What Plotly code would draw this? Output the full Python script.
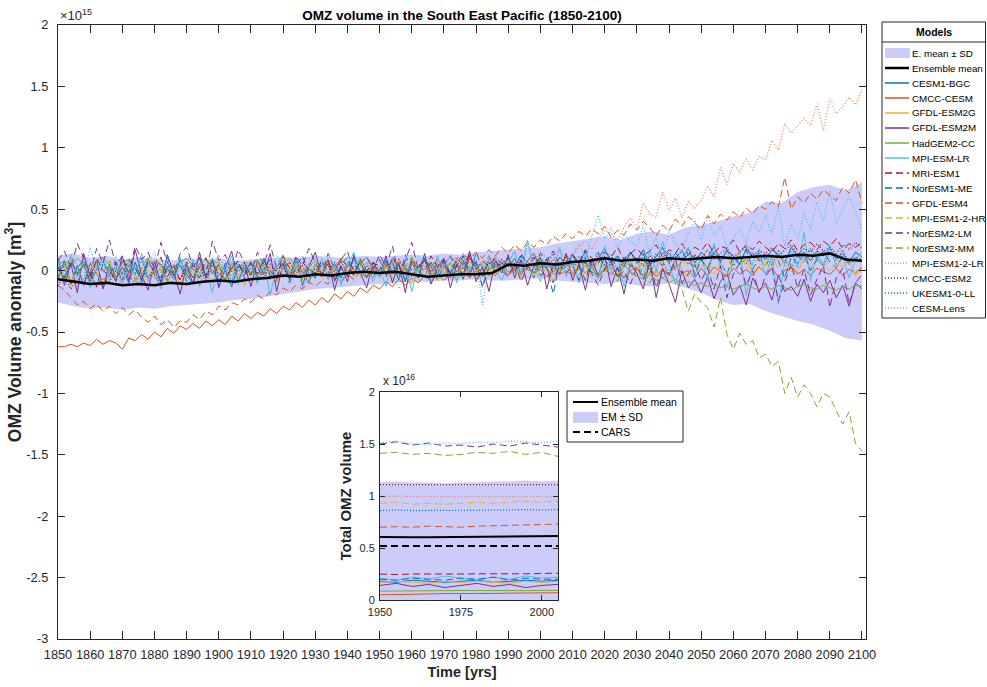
import plotly.graph_objects as go

# ---------------- DATA (units: 1e13 m^3 for anomalies, 1e16 m^3 for inset) ----------------
years = list(range(1850, 2101, 2))
years5 = list(range(1850, 2101, 5))
lens_years = list(range(1920, 2101, 2))
inset_years = list(range(1950, 2006, 5))
main_xticks = list(range(1850, 2101, 10))
main_yticks = [-3, -2.5, -2, -1.5, -1, -0.5, 0, 0.5, 1, 1.5, 2]
main_yticktext = ["-3", "-2.5", "-2", "-1.5", "-1", "-0.5", "0", "0.5", "1", "1.5", "2"]
inset_xticks = [1950, 1975, 2000]
inset_yticks = [0, 0.5, 1, 1.5, 2]
inset_yticktext = ["0", "0.5", "1", "1.5", "2"]

model_names = ["CESM1-BGC", "CMCC-CESM", "GFDL-ESM2G", "GFDL-ESM2M", "HadGEM2-CC",
               "MPI-ESM-LR", "MRI-ESM1", "NorESM1-ME", "GFDL-ESM4", "MPI-ESM1-2-HR",
               "NorESM2-LM", "NorESM2-MM", "MPI-ESM1-2-LR", "CMCC-ESM2", "UKESM1-0-LL",
               "CESM-Lens"]

cesm1_bgc = [-5, 8, -10, 4, -12, 6, -2, -14, 5, -6,
             3, -10, 7, -8, 10, -4, -12, 2, -7, 9,
             -3, -11, 6, -5, 8, -9, 0, -13, 4, -2,
             7, -6, 10, -4, -9, 3, -7, 8, -2, -10,
             5, -3, 9, -8, 2, -5, 11, -1, -6, 4,
             -4, 8, -2, 6, -9, 10, 0, -5, 7, -3,
             9, -2, 5, -7, 12, 1, -4, 8, -1, 6,
             3, 10, -3, 8, 14, 2, 9, -2, 11, 4,
             13, 5, 16, 2, 10, 18, 6, 12, 3, 15,
             8, 17, 4, 12, 19, 7, 14, 9, 18, 6,
             15, 10, 20, 8, 16, 12, 5, 18, 11, 14,
             9, 17, 13, 6, 19, 11, 15, 8, 16, 12,
             18, 10, 14, 7, 15, 11]
cmcc_cesm = [-62, -62, -60, -62, -59, -61, -56, -60, -57, -59,
             -64, -55, -57, -52, -56, -50, -54, -47, -51, -45,
             -48, -43, -47, -41, -45, -40, -44, -37, -41, -35,
             -39, -34, -37, -31, -35, -29, -32, -26, -30, -24,
             -28, -22, -26, -19, -23, -17, -21, -14, -18, -12,
             -15, -9, -13, -7, -12, -6, -10, -4, -9, -3,
             -8, -2, -7, -1, -6, 0, -5, 1, -4, 2,
             -4, 2, -3, 3, -2, 1, -5, 2, -3, 0,
             -4, 3, -2, 4, -5, 1, -3, 2, -6, 0,
             3, -4, 2, -5, 1, -3, 4, -2, 0, -6,
             2, -4, 3, -1, -5, 2, -3, 1, -4, 3,
             -2, 2, -5, 0, 3, -3, 1, -4, 2, -1,
             -3, 2, -4, 1, -2, 3]
gfdl_esm2g = [-8, 2, -12, -3, 5, -9, -1, -14, 0, -6,
              -10, 3, -5, -13, 1, -7, 4, -9, -2, -11,
              0, -6, 6, -4, -10, 2, -8, 5, -3, -12,
              -1, 7, -5, 3, -8, 0, 8, -4, 2, -7,
              4, -3, 9, -2, -6, 5, -1, 7, -5, 1,
              -6, 3, -9, 6, -2, -11, 2, -4, 5, -8,
              1, -5, 6, -3, 3, -7, 0, 8, -2, 4,
              -3, 5, -6, 2, 7, -4, 3, -8, 1, 6,
              -2, 4, -7, 3, 9, -1, 5, -5, 2, 8,
              0, 6, -4, 10, 3, -2, 7, 1, -5, 4,
              8, 2, -3, 6, 11, 0, 5, 9, -2, 4,
              7, 3, 12, 5, -1, 6, 10, 2, 8, 4,
              0, 6, 3, 9, -4, 2]
gfdl_esm2m = [10, -12, 6, -18, 14, -5, 8, -15, 3, -9,
              12, -8, 17, -4, -16, 7, -10, 13, -2, -19,
              5, -11, 15, -6, 9, -14, 2, 16, -9, 4,
              -13, 8, -3, 14, -17, 6, -7, 11, -12, 3,
              15, -5, 9, -16, 4, -9, 13, -2, -14, 7,
              -3, 12, -10, 6, -18, 8, -6, 14, -11, 2,
              10, -14, 5, -4, 16, -9, 3, -17, 8, -2,
              13, -6, 9, -12, 4, 11, -15, 6, -3, 14,
              -8, 5, -16, 9, -4, 12, -13, 3, -19, 6,
              -2, -15, 8, -22, 2, -11, -26, 0, -14, -7,
              -18, -5, -23, -9, -2, -20, -12, -28, -6, -16,
              -10, -24, -4, -17, -13, -21, -7, -25, -11, -18,
              -8, -22, -12, -29, -10, -15]
hadgem2_cc = [5, 8, 3, 10, 6, 1, 7, 11, 4, 0,
              6, 9, 2, -3, 4, 8, 5, -1, 3, 7,
              10, 4, -2, 3, 8, 6, 0, -4, 2, 7,
              5, 9, 3, -2, 1, 6, 10, 4, -1, 3,
              8, 2, -3, 4, 9, 5, 0, 6, 11, 3,
              -2, 4, 1, 7, 3, -4, 2, 8, 5, 0,
              3, 6, -1, 2, 7, 4, -3, 1, 5, 2,
              -1, 3, 6, 1, -2, 4, 2, -3, 0, 3,
              -2, 1, 4, -1, -4, 0, 2, -3, -5, -1,
              -4, -7, -3, -8, -6, -10, -7, -11, -9, -12,
              -10, -13, -11, -14, -12, -15, -13, -11, -14, -16,
              -13, -15, -12, -14, -16, -13, -11, -14, -15, -12,
              -14, -16, -13, -15, -12, -13]
mpi_esm_lr = [4, -10, 12, -6, 8, -14, 2, 10, -8, 6,
              -12, 5, -4, 14, -9, 3, -15, 7, -2, 11,
              -7, 9, -13, 4, -18, 6, -3, 12, -10, 2,
              8, -11, 5, -20, 3, 13, -6, 9, -14, 1,
              -5, 10, -8, 6, -12, 4, 15, -3, 7, -9,
              2, -13, 11, -7, 5, -17, 3, 9, -6, 12,
              -4, 7, -10, 14, -2, 5, -12, 8, 1, -8,
              6, 16, -3, 25, 4, -9, 11, 2, 18, -5,
              8, -10, 14, 3, -7, 20, 1, 12, -13, 6,
              10, -6, 17, 0, 24, 5, -11, 9, 19, -4,
              12, -8, 22, 3, -14, 8, 15, -20, 6, 18,
              -4, 11, -27, 7, 16, 2, 31, -9, 14, 5,
              21, 3, 12, -6, 9, 15]
mri_esm1 = [3, -6, 8, -2, 5, -9, 10, 0, -4, 7,
            -3, 9, 2, -7, 6, -1, 11, -5, 4, -8,
            7, 1, -6, 10, -2, 5, -9, 3, 8, -4,
            6, -3, 9, 0, -7, 12, 2, -5, 7, 1,
            -2, 8, 4, -6, 10, 3, -4, 9, 0, 6,
            4, -5, 11, 2, -3, 8, 5, -1, 12, 3,
            7, -2, 9, 5, 13, 1, 8, 4, 11, 6,
            9, 3, 12, 7, 2, 14, 8, 16, 5, 11,
            13, 7, 17, 10, 6, 15, 11, 19, 9, 14,
            18, 12, 16, 21, 11, 17, 14, 22, 13, 19,
            16, 23, 14, 20, 18, 25, 15, 21, 17, 24,
            19, 15, 22, 18, 25, 16, 21, 23, 17, 24,
            20, 26, 18, 22, 19, 23]
noresm1_me = [-6, 5, -11, 2, 9, -4, -13, 6, 0, -8,
              8, -2, 4, -10, 7, 1, -6, 11, -3, 5,
              -9, 3, 10, -5, 2, -12, 6, -1, 8, -7,
              4, -8, 1, 9, -4, 6, -10, 3, 12, -2,
              -6, 7, 0, -9, 5, 11, -3, 8, -5, 2,
              9, -4, 6, -8, 13, 0, -6, 10, 3, -7,
              5, 12, -2, 8, -5, 15, 2, -4, 9, 1,
              11, -3, 14, 5, -6, 10, 3, -19, 8, 2,
              12, 4, -8, 9, 15, 1, 7, -5, 11, 3,
              6, 14, -2, 10, 4, 16, 0, 8, 13, -4,
              9, 2, 15, 7, -3, 12, 5, 17, 1, 10,
              4, 13, 8, -6, 11, 6, 14, 0, 9, 16,
              7, 2, 12, 5, 10, 8]
gfdl_esm4 = [-12, -16, -22, -28, -25, -31, -27, -33, -29, -35,
             -30, -36, -32, -38, -42, -37, -44, -40, -46, -41,
             -42, -36, -40, -33, -36, -29, -32, -26, -28, -23,
             -26, -20, -23, -17, -20, -14, -17, -12, -15, -9,
             -13, -8, -11, -5, -9, -3, -7, -1, -5, 1,
             -3, 3, -2, 5, 0, 6, 2, 8, 3, 9,
             5, 11, 7, 13, 9, 15, 10, 17, 12, 19,
             14, 21, 16, 23, 19, 25, 21, 28, 24, 30,
             26, 32, 28, 34, 30, 36, 27, 33, 29, 38,
             33, 40, 35, 28, 37, 32, 42, 36, 44, 39,
             33, 45, 38, 46, 41, 48, 43, 51, 46, 53,
             50, 56, 52, 76, 50, 60, 55, 63, 58, 66,
             61, 57, 68, 63, 74, 55]
mpi_esm1_2_hr = [-4, 5, -9, 1, -6, 7, -2, -11, 3, -5,
                 6, -3, -8, 2, 9, -6, 0, -10, 4, -1,
                 -7, 3, -12, 6, -2, 8, -9, 1, -5, 5,
                 2, -6, 7, -3, -10, 4, -1, 9, -7, 0,
                 5, -8, 1, -4, 8, -2, -9, 3, 6, -5,
                 0, 7, -6, 4, -3, 9, -8, 2, -4, 6,
                 -2, 5, 10, -5, 3, -1, 8, -6, 4, 0,
                 7, -3, 5, 1, -6, 9, 2, -2, 10, 4,
                 -1, 8, 3, -5, 11, 2, 6, -3, 9, 5,
                 1, 10, 4, -2, 12, 6, 0, 9, 3, 13,
                 5, 0, 11, 7, -3, 8, 14, 2, 6, 10,
                 4, 12, 1, 9, 6, -2, 11, 5, 15, 3,
                 8, 2, 10, 6, 12, 4]
noresm2_lm = [8, 16, 2, 22, 10, -3, 18, 6, 25, 4,
              12, -2, 20, 9, 15, 1, 23, 7, -4, 14,
              19, 3, 11, -5, 24, 8, 13, 0, 17, 6,
              -3, 15, 5, 21, 2, 10, -6, 12, 4, 18,
              7, -4, 14, 1, 9, 16, -2, 6, 11, 0,
              13, 3, 20, -5, 8, 23, 1, 10, -3, 6,
              9, -6, 4, 12, -2, 7, -14, 3, 10, 0,
              -5, 6, -9, 3, 11, -4, 1, -10, 5, -2,
              4, -8, 7, -3, -12, 2, 8, -6, 0, -11,
              3, -7, 6, -14, 1, -4, 9, -10, -2, 5,
              -8, 2, -15, 4, -22, -3, 6, -12, 0, -18,
              -5, 3, -25, -9, 5, -14, 1, -20, -7, 4,
              -30, -6, 2, -27, -10, -3]
noresm2_mm = [2, -7, 9, -3, 6, -10, 4, -1, 8, -5,
              -2, 7, -8, 3, 10, -4, 1, -9, 5, 0,
              6, -6, 2, 11, -3, 4, -10, 7, -1, 3,
              -5, 8, 0, -7, 5, 12, -2, 3, -8, 6,
              1, -4, 9, 2, -6, 7, -3, 10, 0, -5,
              4, -2, 8, -7, 3, 11, -1, 5, -6, 2,
              7, 0, -5, 9, 2, -3, 6, 12, -4, 3,
              0, 8, -3, 5, -6, 10, 1, 4, -2, 7,
              3, -4, 9, 1, -7, 5, 0, -9, 6, -2,
              -5, 2, -10, 0, -6, -2, -8, -15, -33, -19,
              -26, -30, -46, -22, -52, -64, -51, -60, -57, -71,
              -68, -78, -74, -100, -87, -103, -93, -100, -111, -100,
              -103, -114, -125, -115, -141, -147]
mpi_esm1_2_lr = [10, -5, 14, 2, -8, 20, 0, 6, -3, 12,
                 -6, 8, 1, -10, 5, 15, -2, 9, -7, 3,
                 11, -4, 6, -9, 2, 13, -1, 7, -12, 4,
                 -3, 9, 1, -8, 12, 5, -5, 10, 0, -11,
                 6, -2, 14, 3, -7, 8, 1, 11, -4, 5,
                 -6, 10, 2, -15, 7, -3, 12, 4, -9, 8,
                 1, 13, -5, 6, -1, 9, -28, 3, 10, -2,
                 7, 15, 0, 21, 4, 16, 10, 13, 19, 8,
                 14, 22, 11, 28, 45, 26, 35, 18, 29, 24,
                 20, 37, 14, 27, 9, 33, 22, 16, 30, 41,
                 25, 44, 29, 36, 19, 27, 34, 22, 40, 31,
                 45, 30, 52, 20, 38, 26, 47, 33, 56, 40,
                 65, 38, 50, 60, 48, 33]
cmcc_esm2 = [-12, -4, -15, -7, -10, -2, -13, -6, -9, 0,
             -8, -3, -11, 2, -6, -1, -9, 4, -4, -7,
             1, -5, 3, -8, 5, -3, -6, 2, -1, 6,
             -4, 3, -7, 5, 0, -5, 7, -2, 4, -6,
             2, -3, 6, -1, 8, -4, 3, 5, -2, 7,
             0, 6, -3, 9, 2, -5, 4, 8, -1, 5,
             3, -2, 7, 1, 10, 4, -3, 6, 2, 9,
             5, 0, 8, 3, 11, 6, 2, 9, 4, 12,
             7, 3, 10, 5, 13, 8, 4, 11, 6, 14,
             9, 4, 12, 7, 15, 6, 11, 16, 8, 13,
             10, 17, 9, 14, 18, 11, 15, 20, 12, 16,
             14, 19, 11, 17, 21, 13, 18, 15, 22, 16,
             19, 14, 21, 17, 23, 18]
ukesm1_0_ll = [2, -6, 7, -3, 4, -9, 1, 8, -4, 3,
               -7, 5, -2, 9, -5, 2, 6, -8, 0, 4,
               -3, 7, -6, 1, 10, -4, 3, -9, 5, -1,
               6, -2, 8, -5, 1, 4, -7, 9, -3, 2,
               -4, 5, -1, 7, -6, 3, 8, -2, 4, -5,
               1, 9, -3, 5, -7, 6, 2, 10, -1, 3,
               7, -2, 11, 4, 0, 8, -4, 12, 3, 6,
               9, 2, 13, 5, -1, 10, 6, 14, 1, 8,
               4, 12, 7, -2, 10, 5, 13, 0, 9, 15,
               6, 11, 3, 14, 8, -3, 10, 16, 5, 12,
               9, 2, 14, 7, 17, 4, 11, 6, 15, 8,
               12, 5, 16, 9, 1, 13, 7, 18, 10, 4,
               14, 8, 17, 6, 11, 9]
cesm_lens = [3, -4, 6, -2, 5,
             -3, 4, -6, 2, 7, -1, 3, -5, 6, 1,
             -2, 5, 0, 8, -3, 4, 9, 1, -4, 6,
             2, 7, -1, 10, 4, 13, 3, 8, 12, 5,
             9, 3, 11, 6, 14, 8, 5, 12, 16, 10,
             12, 20, 24, 17, 27, 33, 30, 25, 35, 43,
             35, 55, 46, 43, 64, 49, 59, 43, 56, 51,
             57, 69, 60, 84, 70, 87, 80, 91, 82, 93,
             90, 106, 98, 120, 112, 118, 124, 118, 136, 114,
             140, 128, 133, 141, 135, 147]

model_values = [cesm1_bgc, cmcc_cesm, gfdl_esm2g, gfdl_esm2m, hadgem2_cc, mpi_esm_lr,
                mri_esm1, noresm1_me, gfdl_esm4, mpi_esm1_2_hr, noresm2_lm, noresm2_mm,
                mpi_esm1_2_lr, cmcc_esm2, ukesm1_0_ll, cesm_lens]
model_years = [years] * 15 + [lens_years]

ens_mean = [-7, -9, -11, -10, -12, -11, -12, -10, -11, -9,
            -8, -9, -7, -6, -4, -5, -3, -4, -2, -1,
            -2, -1, -3, -5, -4, -3, -3, -2, 5, 4,
            6, 5, 7, 8, 10, 8, 9, 8, 10, 9,
            10, 11, 10, 11, 12, 11, 13, 12, 14, 9,
            8]
ens_upper = [12, 14, 10, 12, 9, 11, 10, 8, 10, 9,
             10, 8, 9, 10, 11, 10, 12, 11, 10, 12,
             11, 12, 13, 12, 14, 13, 15, 16, 17, 18,
             19, 22, 24, 26, 28, 25, 30, 32, 29, 35,
             37, 40, 44, 47, 56, 55, 64, 68, 70, 65,
             72]
ens_lower = [-26, -29, -31, -30, -32, -30, -31, -29, -28, -27,
             -26, -24, -23, -21, -19, -17, -15, -14, -13, -12,
             -11, -10, -9, -9, -8, -8, -7, -8, -8, -7,
             -6, -8, -9, -10, -11, -9, -12, -13, -10, -14,
             -18, -24, -28, -27, -33, -37, -41, -44, -49, -55,
             -57]

# inset: total OMZ volume (1e16 m^3), 1950-2005
inset_values = [
    [0.18, 0.17, 0.19, 0.18, 0.17, 0.18, 0.19, 0.17, 0.18, 0.19, 0.18, 0.19],
    [0.05, 0.055, 0.06, 0.058, 0.062, 0.06, 0.065, 0.063, 0.066, 0.064, 0.068, 0.07],
    [0.17, 0.18, 0.17, 0.16, 0.18, 0.17, 0.18, 0.17, 0.16, 0.18, 0.17, 0.18],
    [0.14, 0.16, 0.13, 0.15, 0.12, 0.14, 0.16, 0.13, 0.15, 0.12, 0.14, 0.15],
    [0.085, 0.088, 0.09, 0.087, 0.09, 0.092, 0.09, 0.088, 0.091, 0.09, 0.093, 0.092],
    [0.21, 0.19, 0.22, 0.2, 0.23, 0.21, 0.19, 0.22, 0.2, 0.23, 0.21, 0.22],
    [0.25, 0.245, 0.25, 0.248, 0.245, 0.25, 0.252, 0.25, 0.255, 0.252, 0.255, 0.258],
    [0.2, 0.19, 0.21, 0.2, 0.19, 0.21, 0.2, 0.22, 0.19, 0.21, 0.2, 0.2],
    [0.7, 0.705, 0.7, 0.71, 0.705, 0.7, 0.71, 0.715, 0.72, 0.72, 0.725, 0.73],
    [0.93, 0.94, 0.92, 0.93, 0.92, 0.93, 0.94, 0.93, 0.94, 0.95, 0.94, 0.95],
    [1.5, 1.52, 1.49, 1.51, 1.48, 1.49, 1.47, 1.5, 1.48, 1.51, 1.49, 1.47],
    [1.41, 1.42, 1.4, 1.41, 1.39, 1.4, 1.42, 1.41, 1.43, 1.4, 1.42, 1.38],
    [1.51, 1.53, 1.5, 1.49, 1.51, 1.5, 1.52, 1.51, 1.53, 1.52, 1.51, 1.53],
    [1.11, 1.11, 1.105, 1.11, 1.11, 1.105, 1.11, 1.11, 1.105, 1.11, 1.11, 1.11],
    [0.86, 0.865, 0.86, 0.86, 0.865, 0.86, 0.865, 0.86, 0.865, 0.87, 0.865, 0.87],
    [0.995, 1.0, 0.995, 0.995, 1.0, 0.995, 1.0, 0.995, 1.0, 0.995, 1.0, 0.995],
]
inset_mean = [0.605, 0.607, 0.604, 0.603, 0.604, 0.606, 0.605, 0.607, 0.612, 0.614, 0.613, 0.615]
inset_upper = [1.13, 1.14, 1.13, 1.13, 1.12, 1.13, 1.13, 1.14, 1.14, 1.15, 1.14, 1.15]
inset_lower = [0.0] * 12
inset_cars = [0.52] * 12

# ---------------- STYLE ----------------
BLUE, ORANGE, YELLOW, PURPLE = "#0072BD", "#D95319", "#EDB120", "#7E2F8E"
GREEN, LBLUE, DRED, SALMON = "#77AC30", "#4DBEEE", "#A2142F", "#E9865E"
DASH, DOT = "7px,4px", "1px,2px"
model_colors = [BLUE, ORANGE, YELLOW, PURPLE, GREEN, LBLUE, DRED, BLUE, ORANGE, YELLOW,
                PURPLE, GREEN, LBLUE, DRED, BLUE, SALMON]
model_dashes = ["solid"] * 6 + [DASH] * 6 + [DOT] * 4
BAND = "#CCCCFA"
AX = "#262626"
SANS = "Liberation Sans, Arial, sans-serif"

W, H = 987, 687
L, R, T, B = 58, 866, 25, 639      # plot area in pixels


def px(x):
    return (x - L) / (R - L)


def py(y):
    return (B - y) / (B - T)


def sc(vals, f=0.01):
    return [v * f for v in vals]


fig = go.Figure()

# main band
fig.add_trace(go.Scatter(x=years5, y=sc(ens_lower), mode="lines", line=dict(width=0),
                         showlegend=False, hoverinfo="skip", name="lower"))
fig.add_trace(go.Scatter(x=years5, y=sc(ens_upper), mode="lines", line=dict(width=0),
                         fill="tonexty", fillcolor=BAND, showlegend=False,
                         name="E. mean ± SD"))
for name, vals, yrs, col, dsh in zip(model_names, model_values, model_years, model_colors, model_dashes):
    fig.add_trace(go.Scatter(x=yrs, y=sc(vals), mode="lines", name=name, showlegend=False,
                             line=dict(color=col, width=1.3 if dsh == DOT else 1.0, dash=dsh)))
fig.add_trace(go.Scatter(x=years5, y=sc(ens_mean), mode="lines", name="Ensemble mean",
                         showlegend=False, line=dict(color="black", width=2.5)))

# inset
fig.add_trace(go.Scatter(x=inset_years, y=inset_lower, xaxis="x2", yaxis="y2", mode="lines",
                         line=dict(width=0), showlegend=False, hoverinfo="skip"))
fig.add_trace(go.Scatter(x=inset_years, y=inset_upper, xaxis="x2", yaxis="y2", mode="lines",
                         line=dict(width=0), fill="tonexty", fillcolor=BAND, showlegend=False,
                         name="EM ± SD"))
for name, vals, col, dsh in zip(model_names, inset_values, model_colors, model_dashes):
    fig.add_trace(go.Scatter(x=inset_years, y=vals, xaxis="x2", yaxis="y2", mode="lines",
                             name=name, showlegend=False,
                             line=dict(color=col, width=1.3 if dsh == DOT else 1.0, dash=dsh)))
fig.add_trace(go.Scatter(x=inset_years, y=inset_mean, xaxis="x2", yaxis="y2", mode="lines",
                         name="Ensemble mean", showlegend=False, line=dict(color="black", width=2)))
fig.add_trace(go.Scatter(x=inset_years, y=inset_cars, xaxis="x2", yaxis="y2", mode="lines",
                         name="CARS", showlegend=False,
                         line=dict(color="black", width=2, dash="7px,4px")))

# ---------------- manual legends ----------------
shapes, annots = [], []


def rect(x0, x1, y0, y1, fill, line_w=1.0, line_c=AX):
    shapes.append(dict(type="rect", xref="paper", yref="paper", x0=px(x0), x1=px(x1),
                       y0=py(y1), y1=py(y0), fillcolor=fill,
                       line=dict(color=line_c, width=line_w), layer="above"))


def hline(x0, x1, y, color, width, dash="solid"):
    shapes.append(dict(type="line", xref="paper", yref="paper", x0=px(x0), x1=px(x1),
                       y0=py(y), y1=py(y), line=dict(color=color, width=width, dash=dash),
                       layer="above"))


def label(x, y, text, size, anchor="left", color="black"):
    annots.append(dict(x=px(x), y=py(y), xref="paper", yref="paper", text=text,
                       showarrow=False, xanchor=anchor, yanchor="middle", borderpad=0,
                       font=dict(family=SANS, size=size, color=color)))


# main legend
rect(882, 985.5, 22, 318, "white")
hline(882, 985.5, 42, AX, 1)
label(934, 32, "<b>Models</b>", 10.5, anchor="center")
row0, step = 53, 15
rect(885, 910, row0 - 5, row0 + 5, BAND, line_w=0, line_c=BAND)
label(911, row0, "E. mean ± SD", 9.8)
hline(885, 909, row0 + step, "black", 2.5)
label(911, row0 + step, "Ensemble mean", 9.8)
for i, (name, col, dsh) in enumerate(zip(model_names, model_colors, model_dashes)):
    yy = row0 + step * (i + 2)
    hline(885, 909, yy, col, 1.3 if dsh == DOT else 1.5, dsh)
    label(911, yy, name, 9.8)

# inset legend
rect(567, 683, 391, 442, "white")
hline(573, 598, 402, "black", 2)
label(600, 402, "Ensemble mean", 10.5)
rect(573, 598, 412, 423, BAND, line_w=0, line_c=BAND)
label(600, 417, "EM ± SD", 10.5)
hline(573, 598, 432, "black", 2, "7px,4px")
label(600, 432, "CARS", 10.5)

# exponent labels
label(59, 15, "×10<sup>15</sup>", 13, anchor="left", color=AX)
label(382, 380, "x 10<sup>16</sup>", 12, anchor="left", color=AX)

axis_common = dict(showline=True, linecolor=AX, mirror="ticks", ticks="inside",
                   tickcolor=AX, showgrid=False, zeroline=False)

fig.update_layout(
    width=W, height=H,
    margin=dict(l=L, r=W - R, t=T, b=H - B, autoexpand=False),
    paper_bgcolor="white", plot_bgcolor="white",
    showlegend=False,
    title=dict(text="<b>OMZ volume in the South East Pacific (1850-2100)</b>",
               x=0.5, xref="paper", y=1 - 15 / H, yref="container", yanchor="middle",
               xanchor="center", font=dict(family=SANS, size=13.5, color="black")),
    xaxis=dict(axis_common, range=[1850, 2101.25], tickvals=main_xticks, ticklen=8,
               linewidth=1.3, tickangle=0, ticklabelstandoff=3,
               tickfont=dict(family=SANS, size=12.8, color=AX), domain=[0, 1],
               title=dict(text="<b>Time [yrs]</b>", standoff=6,
                          font=dict(family=SANS, size=14.5, color=AX))),
    yaxis=dict(axis_common, range=[-3, 2], tickvals=main_yticks, ticktext=main_yticktext,
               ticklen=7, linewidth=1.3, ticklabelstandoff=6,
               tickfont=dict(family=SANS, size=12.8, color=AX), domain=[0, 1],
               title=dict(text="<b>OMZ Volume anomaly [m<sup>3</sup>]</b>", standoff=0,
                          font=dict(family=SANS, size=17.5, color=AX))),
    xaxis2=dict(axis_common, range=[1950, 2005], tickvals=inset_xticks, ticklen=5,
                linewidth=1, anchor="y2", domain=[px(380), px(558)], tickangle=0,
                ticklabelstandoff=2,
                tickfont=dict(family=SANS, size=11, color=AX)),
    yaxis2=dict(axis_common, range=[0, 2], tickvals=inset_yticks, ticktext=inset_yticktext,
                ticklen=5, linewidth=1, anchor="x2", domain=[py(600), py(392)],
                ticklabelstandoff=2,
                tickfont=dict(family=SANS, size=11, color=AX),
                title=dict(text="<b>Total OMZ volume</b>", standoff=4,
                           font=dict(family=SANS, size=15, color=AX))),
    shapes=shapes,
    annotations=annots,
)

# remove the default 8 px page margin so the 987x687 figure fills the window exactly
fig.write_html("out.html", config={"displayModeBar": False},
               post_script="document.body.style.margin='0';document.body.style.overflow='hidden';")
